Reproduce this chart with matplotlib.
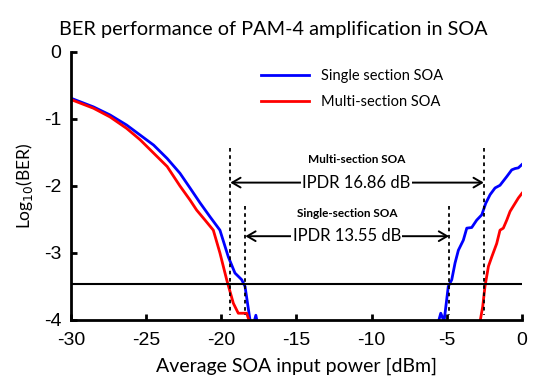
import numpy as np
import matplotlib
matplotlib.use("Agg")
import matplotlib.pyplot as plt

plt.rcParams['axes.unicode_minus'] = False

# ---- data (log10 BER vs average SOA input power, dBm) ----
single_left_x = [-30, -28.5, -27.4, -26.3, -25.4, -24.5, -23.6, -22.75, -22.08, -21.42,
                 -20.75, -20.09, -19.53, -19.09, -18.64, -18.42, -18.09, -17.9, -17.7, -17.55]
single_left_y = [-0.69, -0.82, -0.94, -1.09, -1.24, -1.39, -1.59, -1.81, -2.03, -2.25,
                 -2.46, -2.66, -3.06, -3.30, -3.40, -3.50, -4.0, -4.1, -3.93, -4.1]
single_right_x = [-5.56, -5.40, -5.18, -4.90, -4.67, -4.45, -4.23, -3.90, -3.67, -3.34, -3.01,
                  -2.67, -2.41, -2.12, -1.79, -1.46, -1.01, -0.68, -0.46, -0.24, 0.0]
single_right_y = [-4.03, -3.90, -4.02, -3.50, -3.40, -3.15, -2.96, -2.81, -2.63, -2.62, -2.51,
                  -2.43, -2.26, -2.13, -2.03, -1.99, -1.86, -1.76, -1.74, -1.73, -1.68]

multi_left_x = [-30, -28.5, -27.4, -26.3, -25.4, -24.5, -23.6, -22.75, -22.08, -21.64,
                -21.08, -20.53, -20.09, -19.64, -19.2, -18.87, -18.31, -18.09]
multi_left_y = [-0.71, -0.84, -0.97, -1.14, -1.31, -1.51, -1.71, -2.0, -2.21, -2.36,
                -2.51, -2.66, -3.0, -3.40, -3.75, -3.90, -3.90, -4.05]
multi_right_x = [-2.79, -2.61, -2.46, -2.23, -2.01, -1.68, -1.46, -1.24, -1.01, -0.79,
                 -0.46, -0.24, 0.0]
multi_right_y = [-4.03, -3.80, -3.50, -3.20, -3.06, -2.86, -2.66, -2.63, -2.51, -2.38,
                 -2.26, -2.18, -2.11]

threshold = -3.46
multi_range = [-19.4, -2.54]
single_range = [-18.4, -4.85]
multi_label = "IPDR 16.86 dB"
single_label = "IPDR 13.55 dB"

xticks = [-30, -25, -20, -15, -10, -5, 0]
yticks = [0, -1, -2, -3, -4]

calibri_like = ['Lato', 'DejaVu Sans']
arial_like = ['Liberation Sans', 'DejaVu Sans']

fig = plt.figure(figsize=(5.5, 3.85), dpi=100)
ax = fig.add_axes([0.129, 0.169, 0.820, 0.696])

blue = '#0000ff'
red = '#ff0000'

ax.plot(single_left_x, single_left_y, color=blue, lw=2.0, label='Single section SOA')
ax.plot(single_right_x, single_right_y, color=blue, lw=2.0)
ax.plot(multi_left_x, multi_left_y, color=red, lw=2.0, label='Multi-section SOA')
ax.plot(multi_right_x, multi_right_y, color=red, lw=2.0)

ax.axhline(threshold, color='black', lw=1.5)

# dashed vertical markers
for xv in multi_range:
    ax.plot([xv, xv], [-1.43, -3.92], color='black', ls=(0, (2, 2)), lw=1.3)
for xv in single_range:
    ax.plot([xv, xv], [-2.30, -3.92], color='black', ls=(0, (2, 2)), lw=1.3)

arrow_style = dict(arrowstyle='<->,head_length=0.6,head_width=0.35', lw=1.4, color='black',
                   shrinkA=0, shrinkB=0)
ax.annotate('', xy=(multi_range[0], -1.95), xytext=(multi_range[1], -1.95), arrowprops=arrow_style)
ax.annotate('', xy=(single_range[0], -2.75), xytext=(single_range[1], -2.75), arrowprops=arrow_style)

ax.text(-11.0, -1.95, multi_label, ha='center', va='center', fontsize=12, family=calibri_like,
        bbox=dict(facecolor='white', edgecolor='none', pad=1))
ax.text(-11.65, -2.75, single_label, ha='center', va='center', fontsize=12, family=calibri_like,
        bbox=dict(facecolor='white', edgecolor='none', pad=1))
ax.text(-11.0, -1.60, 'Multi-section SOA', ha='center', va='center', fontsize=8.5,
        fontweight='bold', family=calibri_like)
ax.text(-11.6, -2.41, 'Single-section SOA', ha='center', va='center', fontsize=8.5,
        fontweight='bold', family=calibri_like)

ax.set_xlim(-30, 0)
ax.set_ylim(-4, 0)
ax.set_xticks(xticks)
ax.set_xticklabels([str(v) for v in xticks])
ax.set_yticks(yticks)
ax.set_yticklabels([str(v) for v in yticks])
for lab in ax.get_xticklabels() + ax.get_yticklabels():
    lab.set_fontfamily(arial_like)
    lab.set_fontsize(14)

ax.spines['top'].set_visible(False)
ax.spines['right'].set_visible(False)
ax.spines['left'].set_linewidth(2)
ax.spines['bottom'].set_linewidth(2)
ax.tick_params(direction='in', length=4, width=2)
ax.tick_params(axis='x', pad=9)
ax.tick_params(axis='y', pad=7)

ax.set_xlabel('Average SOA input power [dBm]', fontsize=14, family=calibri_like, labelpad=6)
ax.set_ylabel('Log$_{10}$(BER)', fontsize=12.5, family=calibri_like, labelpad=6)

fig.suptitle('BER performance of PAM-4 amplification in SOA', fontsize=14.3,
             family=calibri_like, x=0.497, y=0.945)

leg = ax.legend(loc='upper left', bbox_to_anchor=(0.45, 0.855), bbox_transform=fig.transFigure,
                frameon=False, handlelength=3.3, handletextpad=0.85, labelspacing=0.85,
                prop={'family': calibri_like, 'size': 10.5})

fig.savefig('out.png', dpi=100)
